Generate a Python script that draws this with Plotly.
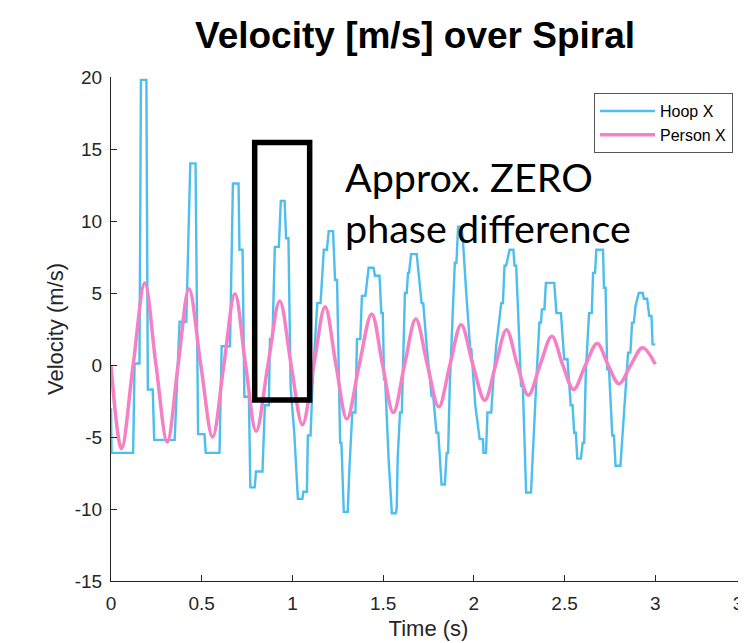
"""Hoop vs person X velocity over the spiral, MATLAB-style line chart."""

import plotly.graph_objects as go

# Hoop X velocity (m/s)
hoop_t = [
    0.000, 0.003, 0.122, 0.130, 0.157, 0.165, 0.195, 0.203, 0.230, 0.238,
    0.351, 0.378, 0.415, 0.437, 0.466, 0.480, 0.515, 0.522, 0.598, 0.610,
    0.625, 0.656, 0.672, 0.703, 0.708, 0.725, 0.735, 0.760, 0.768, 0.792,
    0.799, 0.835, 0.848, 0.870, 0.876, 0.890, 0.903, 0.925, 0.936, 0.957,
    0.965, 0.978, 0.990, 1.010, 1.030, 1.055, 1.060, 1.080, 1.085, 1.100,
    1.110, 1.137, 1.155, 1.173, 1.190, 1.200, 1.224, 1.235, 1.246, 1.255,
    1.263, 1.270, 1.283, 1.305, 1.314, 1.330, 1.347, 1.356, 1.374, 1.383,
    1.402, 1.420, 1.447, 1.455, 1.480, 1.490, 1.498, 1.505, 1.511, 1.530,
    1.548, 1.570, 1.575, 1.580, 1.593, 1.603, 1.611, 1.620, 1.630, 1.637,
    1.643, 1.654, 1.685, 1.694, 1.712, 1.721, 1.740, 1.767, 1.776, 1.794,
    1.804, 1.822, 1.840, 1.850, 1.858, 1.867, 1.886, 1.895, 1.904, 1.913,
    1.931, 1.940, 1.958, 1.980, 1.986, 2.008, 2.032, 2.050, 2.053, 2.067,
    2.075, 2.096, 2.105, 2.123, 2.151, 2.160, 2.169, 2.178, 2.197, 2.218,
    2.224, 2.233, 2.242, 2.260, 2.270, 2.279, 2.288, 2.315, 2.325, 2.343,
    2.361, 2.370, 2.375, 2.389, 2.397, 2.443, 2.455, 2.480, 2.498, 2.516,
    2.534, 2.544, 2.553, 2.562, 2.570, 2.590, 2.600, 2.608, 2.617, 2.635,
    2.650, 2.657, 2.668, 2.675, 2.712, 2.717, 2.726, 2.735, 2.745, 2.753,
    2.763, 2.772, 2.781, 2.808, 2.817, 2.836, 2.850, 2.863, 2.872, 2.882,
    2.891, 2.909, 2.931, 2.937, 2.955, 2.967, 2.979, 2.985, 3.000,
]
hoop_v = [
    -3.0, -6.1, -6.1, 0.1, 0.1, 19.8, 19.8, -1.7, -1.7, -5.2,
    -5.2, 3.0, 3.0, 14.0, 14.0, -4.8, -4.8, -6.1, -6.1, 1.3,
    1.3, 1.3, 12.6, 12.6, 8.0, 8.0, -2.2, -2.2, -8.5, -8.5,
    -7.4, -7.4, -2.8, -2.8, 1.8, 1.8, 8.2, 8.2, 11.4, 11.4,
    8.8, 8.8, -1.5, -4.7, -9.3, -9.3, -8.8, -8.8, -4.9, -4.9,
    -1.5, 4.3, 4.3, 8.0, 8.0, 9.3, 9.3, 5.9, 5.9, 0.4,
    -5.4, -5.4, -10.2, -10.2, -7.2, -3.3, -3.3, 1.8, 1.8, 4.8,
    4.8, 6.75, 6.75, 6.2, 6.2, 3.6, 3.6, -1.0, -1.0, -6.5,
    -10.3, -10.3, -9.9, -6.5, -3.3, -3.3, 0.9, 5.0, 5.0, 6.4,
    6.4, 7.7, 7.7, 6.4, 4.3, 4.3, 1.3, -2.15, -2.15, -4.7,
    -4.7, -8.3, -8.3, -6.1, -6.1, -1.5, 3.9, 7.1, 7.1, 9.6,
    9.6, 8.6, 5.0, 1.1, 1.1, -2.8, -5.15, -5.15, -6.1, -6.1,
    -3.3, -3.3, -1.45, 1.3, 4.3, 4.3, 6.9, 6.9, 8.0, 8.0,
    6.9, 6.9, 4.3, -1.45, -1.45, -4.7, -8.85, -8.85, -5.85, -1.45,
    2.94, 2.94, 3.86, 3.86, 5.7, 5.7, 3.6, 3.6, 0.4, 0.4,
    -2.8, -2.8, -4.7, -4.7, -6.5, -6.5, -5.4, -5.4, -0.5, 3.6,
    3.6, 6.4, 6.4, 8.0, 8.0, 5.36, 5.36, -0.3, -0.3, -2.8,
    -4.9, -4.9, -7.0, -7.0, -5.4, -1.45, 0.86, 0.86, 2.94, 2.94,
    4.1, 5.0, 5.0, 4.6, 4.6, 3.4, 3.4, 1.43, 1.43,
]

# Person X velocity (m/s): extrema and zero crossings of the smooth trace
person_t = [
    0.000, 0.058, 0.122, 0.186, 0.248, 0.310, 0.370, 0.430, 0.495, 0.560,
    0.622, 0.683, 0.742, 0.800, 0.865, 0.930, 0.993, 1.055, 1.118, 1.180,
    1.240, 1.300, 1.368, 1.437, 1.497, 1.556, 1.618, 1.680, 1.744, 1.807,
    1.868, 1.930, 1.995, 2.060, 2.120, 2.180, 2.240, 2.300, 2.365, 2.430,
    2.490, 2.550, 2.615, 2.680, 2.740, 2.800, 2.865, 2.930, 3.000,
]
person_v = [
    0.0, -5.8, 0.0, 5.7, 0.0, -5.35, 0.0, 5.3, 0.0, -5.0,
    0.0, 4.95, 0.0, -4.6, 0.0, 4.45, 0.0, -4.15, 0.0, 4.05,
    0.0, -3.75, 0.0, 3.55, 0.0, -3.3, 0.0, 3.2, 0.0, -2.9,
    0.0, 2.8, 0.0, -2.45, 0.0, 2.45, 0.0, -2.1, 0.0, 2.0,
    0.0, -1.7, 0.0, 1.5, 0.0, -1.3, 0.0, 1.2, 0.05,
]

x_ticks = [0, 0.5, 1, 1.5, 2, 2.5, 3, 3.5]
y_ticks = [-15, -10, -5, 0, 5, 10, 15, 20]

# highlight box around the 4th hoop peak (data coords)
box_t = [0.792, 1.095]
box_v = [-2.43, 15.45]

AXIS_COLOR = "#262626"
FONT = "Liberation Sans, Arial, sans-serif"

fig = go.Figure()
fig.add_trace(go.Scatter(
    x=hoop_t, y=hoop_v, mode="lines", name="Hoop X",
    line=dict(color="#4DBEEE", width=2.4),
))
fig.add_trace(go.Scatter(
    x=person_t, y=person_v, mode="lines", name="Person X",
    line=dict(color="#F580C4", width=3.5, shape="spline", smoothing=1.0),
))

fig.add_shape(
    type="rect", xref="x", yref="y",
    x0=box_t[0], x1=box_t[1], y0=box_v[0], y1=box_v[1],
    line=dict(color="black", width=5.5), layer="above",
)
fig.add_annotation(
    text="Approx. ZERO<br>phase difference",
    xref="paper", yref="paper", x=0.365, y=0.752,
    xanchor="left", yanchor="middle", align="left", showarrow=False,
    font=dict(family="Lato, Noto Sans, sans-serif", size=39.5, color="black"),
)
fig.add_annotation(
    text="<b>Velocity [m/s] over Spiral</b>",
    xref="paper", yref="paper", x=0.479, y=1.083,
    xanchor="center", yanchor="middle", showarrow=False,
    font=dict(family=FONT, size=37, color="black"),
)

axis_common = dict(
    showgrid=False, zeroline=False, showline=True, linecolor=AXIS_COLOR, linewidth=1,
    ticks="inside", ticklen=6, tickcolor=AXIS_COLOR,
    tickfont=dict(family=FONT, size=19, color=AXIS_COLOR),
    automargin=False,
)
fig.update_xaxes(
    range=[0, 3.5], tickvals=x_ticks, ticktext=[f"{v:g}" for v in x_ticks],
    ticklabelstandoff=5, ticklabeloverflow="allow",
    title=dict(text="Time (s)", font=dict(family=FONT, size=22, color=AXIS_COLOR), standoff=7),
    **axis_common,
)
fig.update_yaxes(
    range=[-15, 20], tickvals=y_ticks, ticktext=[str(v) for v in y_ticks],
    ticklabelstandoff=4,
    title=dict(text="Velocity (m/s)", font=dict(family=FONT, size=22, color=AXIS_COLOR), standoff=5),
    **axis_common,
)

# page body adds an 8px offset, so the figure is sized to stay inside the window
fig.update_layout(
    width=738, height=635,
    margin=dict(l=103, r=0, t=69, b=62),
    paper_bgcolor="white", plot_bgcolor="white",
    showlegend=True,
    legend=dict(
        x=0.9795, y=0.968, xanchor="right", yanchor="top",
        bgcolor="white", bordercolor="#555555", borderwidth=1,
        font=dict(family=FONT, size=16, color="black"),
        tracegroupgap=0, itemwidth=55,
    ),
)

fig.write_html("out.html")
